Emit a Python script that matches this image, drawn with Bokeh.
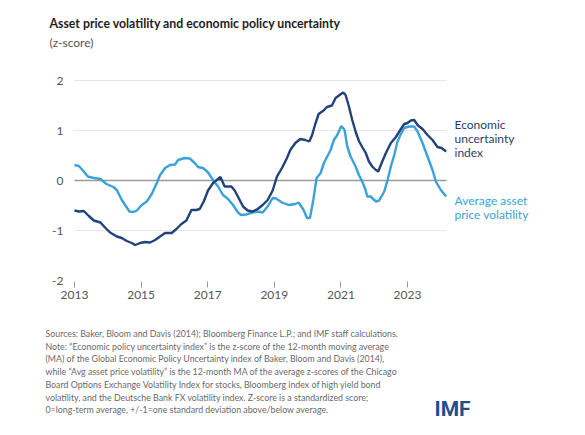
from bokeh.plotting import figure
from bokeh.models import Range1d, Label, FixedTicker
from bokeh.layouts import column
from bokeh.embed import file_html
from bokeh.resources import INLINE

# ---- data ----
eui_x = [2013.0, 2013.13, 2013.28, 2013.43, 2013.58, 2013.78, 2013.93, 2014.07, 2014.27, 2014.42,
         2014.57, 2014.72, 2014.82, 2014.97, 2015.12, 2015.27, 2015.42, 2015.57, 2015.72, 2015.92,
         2016.06, 2016.21, 2016.36, 2016.51, 2016.66, 2016.76, 2016.88, 2017.01, 2017.16, 2017.31,
         2017.38, 2017.51, 2017.71, 2017.81, 2017.96, 2018.06, 2018.20, 2018.35, 2018.50, 2018.65,
         2018.80, 2018.95, 2019.08, 2019.23, 2019.38, 2019.48, 2019.63, 2019.78, 2019.93, 2020.05,
         2020.13, 2020.23, 2020.33, 2020.48, 2020.58, 2020.73, 2020.84, 2020.96, 2021.07, 2021.14,
         2021.24, 2021.34, 2021.44, 2021.54, 2021.64, 2021.74, 2021.84, 2021.94, 2022.05, 2022.12,
         2022.24, 2022.35, 2022.50, 2022.65, 2022.80, 2022.90, 2023.00, 2023.10, 2023.20, 2023.30,
         2023.45, 2023.60, 2023.75, 2023.90, 2024.02, 2024.16]
eui_y = [-0.60, -0.62, -0.61, -0.71, -0.80, -0.84, -0.95, -1.04, -1.12, -1.15,
         -1.21, -1.25, -1.29, -1.25, -1.23, -1.24, -1.19, -1.12, -1.05, -1.05,
         -0.97, -0.87, -0.80, -0.59, -0.59, -0.57, -0.42, -0.20, -0.05, 0.03,
         0.07, -0.12, -0.12, -0.20, -0.39, -0.52, -0.60, -0.62, -0.57, -0.49,
         -0.39, -0.20, 0.08, 0.25, 0.45, 0.61, 0.75, 0.83, 0.81, 0.78,
         0.90, 1.13, 1.33, 1.40, 1.47, 1.50, 1.65, 1.71, 1.76, 1.71,
         1.48, 1.21, 0.98, 0.79, 0.67, 0.56, 0.38, 0.28, 0.21, 0.18,
         0.38, 0.55, 0.75, 0.87, 1.03, 1.13, 1.15, 1.20, 1.21, 1.11,
         1.03, 0.91, 0.81, 0.67, 0.65, 0.58]

vol_x = [2013.0, 2013.13, 2013.28, 2013.40, 2013.58, 2013.78, 2013.96, 2014.17, 2014.27, 2014.42,
         2014.52, 2014.65, 2014.77, 2014.87, 2015.02, 2015.17, 2015.32, 2015.47, 2015.57, 2015.72,
         2015.87, 2016.02, 2016.11, 2016.31, 2016.46, 2016.61, 2016.71, 2016.86, 2017.01, 2017.16,
         2017.31, 2017.46, 2017.61, 2017.76, 2017.91, 2018.00, 2018.15, 2018.35, 2018.50, 2018.65,
         2018.80, 2018.95, 2019.05, 2019.23, 2019.43, 2019.63, 2019.73, 2019.88, 2019.98, 2020.07,
         2020.17, 2020.27, 2020.39, 2020.49, 2020.59, 2020.69, 2020.79, 2020.89, 2021.01, 2021.11,
         2021.19, 2021.29, 2021.44, 2021.54, 2021.64, 2021.74, 2021.79, 2021.89, 2022.05, 2022.15,
         2022.30, 2022.40, 2022.50, 2022.60, 2022.70, 2022.80, 2022.90, 2023.05, 2023.20, 2023.30,
         2023.45, 2023.60, 2023.75, 2023.85, 2024.00, 2024.16]
vol_y = [0.31, 0.29, 0.18, 0.08, 0.05, 0.03, -0.07, -0.13, -0.19, -0.39,
         -0.49, -0.62, -0.63, -0.60, -0.49, -0.42, -0.27, -0.05, 0.11, 0.25,
         0.31, 0.32, 0.41, 0.45, 0.44, 0.35, 0.27, 0.25, 0.16, 0.01,
         -0.12, -0.29, -0.37, -0.49, -0.64, -0.69, -0.68, -0.64, -0.62, -0.64,
         -0.52, -0.35, -0.36, -0.44, -0.49, -0.47, -0.44, -0.59, -0.75, -0.75,
         -0.39, 0.05, 0.15, 0.35, 0.48, 0.61, 0.81, 0.91, 1.09, 1.01,
         0.68, 0.48, 0.28, 0.11, -0.02, -0.19, -0.32, -0.32, -0.42, -0.40,
         -0.22, 0.01, 0.28, 0.51, 0.78, 0.93, 1.05, 1.08, 1.08, 0.98,
         0.75, 0.48, 0.21, -0.02, -0.19, -0.32]

x_ticks = [2013, 2015, 2017, 2019, 2021, 2023]
y_ticks = [-2, -1, 0, 1, 2]
y_tick_labels = {-2: "-2", -1: "-1", 0: "0", 1: "1", 2: "2"}
grid_values = [-1, 1, 2]
x_start, x_end = 2013.0, 2024.17

title_text = "Asset price volatility and economic policy uncertainty"
subtitle_text = "(z-score)"
eui_label = ["Economic", "uncertainty", "index"]
vol_label = ["Average asset", "price volatility"]
notes = [
    "Sources: Baker, Bloom and Davis (2014); Bloomberg Finance L.P.; and IMF staff calculations.",
    "Note: \u201cEconomic policy uncertainty index\u201d is the z-score of the 12-month moving average",
    "(MA) of the Global Economic Policy Uncertainty index of Baker, Bloom and Davis (2014),",
    "while \u201cAvg asset price volatility\u201d is the 12-month MA of the average z-scores of the Chicago",
    "Board Options Exchange Volatility Index for stocks, Bloomberg index of high yield bond",
    "volatility, and the Deutsche Bank FX volatility index. Z-score is a standardized score;",
    "0=long-term average, +/-1=one standard deviation above/below average.",
]

DARK = "#22427c"
LIGHT = "#3aa2da"
FONT = "Lato"
W = 569
LB = 36                      # common left border (page px) of every frame
HEAD_H, MAIN_H, FOOT_H = 70, 250, 99


def text_panel(h, top):
    f = figure(width=W, height=h, output_backend="svg", toolbar_location=None,
               x_range=Range1d(LB, W), y_range=Range1d(top + h, top),
               x_axis_location=None, y_axis_location=None,
               min_border_left=LB, min_border_right=0, min_border_top=0, min_border_bottom=0)
    f.outline_line_color = None
    f.grid.visible = False
    f.background_fill_color = "white"
    f.border_fill_color = "white"
    return f


def lab(fig, text, sx, sy, size, color, style="normal", font=FONT, align="left"):
    fig.add_layout(Label(x=sx, y=sy, text=text, text_font=font, text_font_size=size,
                         text_color=color, text_font_style=style, text_align=align,
                         text_baseline="middle"))


# ---- header ----
head = text_panel(HEAD_H, 0)
lab(head, title_text, 49, 23, "12.3px", "#1e1e1e", style="bold")
lab(head, subtitle_text, 49, 42, "12px", "#555555")

# ---- main chart ----
FL = 74                     # page x of 2013
Y_TOP_PX, Y_BOT_PX = 80, 280  # page y of +2 and -2
FT, FBF = 72, 287           # page y of the frame top / bottom
px_per_unit = (Y_BOT_PX - Y_TOP_PX) / 4.0
px_per_year = (446 - FL) / (x_end - x_start)
X0 = x_start - (FL - LB) / px_per_year
X1 = x_start + (W - FL) / px_per_year
Y1 = 2 + (Y_TOP_PX - FT) / px_per_unit
Y0 = -2 - (FBF - Y_BOT_PX) / px_per_unit
p = figure(width=W, height=MAIN_H, output_backend="svg", toolbar_location=None,
           x_range=Range1d(X0, X1), y_range=Range1d(Y0, Y1),
           min_border_left=LB, min_border_right=0, min_border_top=FT - HEAD_H,
           min_border_bottom=HEAD_H + MAIN_H - FBF)
p.outline_line_color = None
p.background_fill_color = "white"
p.border_fill_color = "white"
p.grid.visible = False

p.segment(x0=[x_start] * len(grid_values), x1=[x_end] * len(grid_values),
          y0=grid_values, y1=grid_values, line_color="#e6e6e6", line_width=1)
p.segment(x0=[x_start], x1=[x_end], y0=[0], y1=[0], line_color="#9a9a9a", line_width=1.6)

p.xaxis.ticker = FixedTicker(ticks=x_ticks)
p.xaxis.axis_line_color = None
p.xaxis.major_tick_line_color = "#999999"
p.xaxis.major_tick_in = 6
p.xaxis.major_tick_out = 0
p.xaxis.minor_tick_line_color = None
p.xaxis.major_label_standoff = 3
p.xaxis.major_label_text_font = FONT
p.xaxis.major_label_text_font_size = "12px"
p.xaxis.major_label_text_color = "#555555"

p.yaxis.fixed_location = x_start
p.yaxis.ticker = FixedTicker(ticks=y_ticks)
p.yaxis.major_label_overrides = y_tick_labels
p.yaxis.axis_line_color = None
p.yaxis.major_tick_line_color = None
p.yaxis.minor_tick_line_color = None
p.yaxis.major_tick_in = 0
p.yaxis.major_tick_out = 0
p.yaxis.major_label_standoff = 11
p.yaxis.major_label_text_font = FONT
p.yaxis.major_label_text_font_size = "12px"
p.yaxis.major_label_text_color = "#555555"

p.line(vol_x, vol_y, line_color=LIGHT, line_width=2.4)
p.line(eui_x, eui_y, line_color=DARK, line_width=2.4)


def flab(text, sx, sy, size, color, style="normal", font=FONT):
    # screen units relative to the plot frame (origin bottom-left)
    p.add_layout(Label(x=sx - LB, y=FBF - sy, x_units="screen", y_units="screen",
                       text=text, text_font=font, text_font_size=size,
                       text_color=color, text_font_style=style, text_baseline="middle"))


for i, t in enumerate(eui_label):
    flab(t, 454, 123.5 + i * 14, "12px", "#2c3c70")
for i, t in enumerate(vol_label):
    flab(t, 454, 199.5 + i * 14, "12px", LIGHT)

# ---- footer ----
foot = text_panel(FOOT_H, HEAD_H + MAIN_H)
for i, t in enumerate(notes):
    lab(foot, t, 45, 333 + i * 12.7, "8.8px", "#6a6a6a")
lab(foot, "IMF", 434, 408, "21px", "#1f4f8f", style="bold", font="Roboto")

layout = column(head, p, foot, spacing=0)
open("out.html", "w").write(file_html(layout, INLINE))
